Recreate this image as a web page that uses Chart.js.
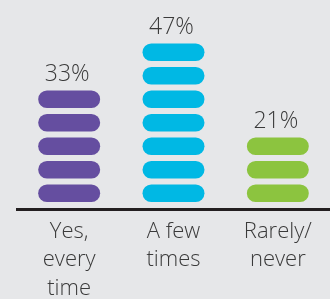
<!DOCTYPE html>
<html><head><meta charset="utf-8">
<script src="https://cdn.jsdelivr.net/npm/chart.js@4.4.1/dist/chart.umd.min.js"></script>
<style>html,body{margin:0;padding:0;background:#e6e7e9;overflow:hidden}#wrap{width:330px;height:299px;position:relative}</style>
</head><body><div id="wrap"><canvas id="c" width="330" height="299"></canvas></div>
<script>
const categories = [["Yes,","every","time"],["A few","times"],["Rarely/","never"]];
const percentages = [33, 47, 21];
const pillCounts = [5, 7, 3];
const valueLabels = ["33%", "47%", "21%"];
const colors = ["#654ea0", "#00b8e4", "#8cc43f"];

const PILL = 0.745;
const maxPills = Math.max(...pillCounts);
const datasets = [];
for (let i = 0; i < maxPills; i++) {
  datasets.push({
    data: pillCounts.map(n => (i < n ? [i, i + PILL] : null)),
    backgroundColor: colors,
    borderRadius: 20,
    borderSkipped: false,
    borderWidth: 0,
    barPercentage: 0.594,
    categoryPercentage: 1
  });
}

const valueLabelPlugin = {
  id: 'valueLabels',
  afterDatasetsDraw(chart) {
    const ctx = chart.ctx;
    ctx.save();
    ctx.font = '300 23px "Open Sans"';
    ctx.fillStyle = '#3a3a3a';
    ctx.textAlign = 'center';
    ctx.textBaseline = 'alphabetic';
    pillCounts.forEach((n, c) => {
      const el = chart.getDatasetMeta(n - 1).data[c];
      ctx.fillText(valueLabels[c], el.x - 2, el.y - 9.5);
    });
    ctx.restore();
  }
};

new Chart(document.getElementById('c'), {
  type: 'bar',
  data: { labels: categories, datasets },
  plugins: [valueLabelPlugin],
  options: {
    responsive: false,
    animation: false,
    events: [],
    layout: { padding: { left: 17, right: 0, top: 0, bottom: 0 } },
    plugins: { legend: { display: false }, tooltip: { enabled: false } },
    scales: {
      x: {
        stacked: true,
        afterFit: s => { s.height = 90; },
        grid: { display: false, drawTicks: false, tickLength: 0 },
        border: { display: true, color: '#231f20', width: 3 },
        ticks: {
          color: '#3a3a3a',
          padding: 8,
          maxRotation: 0,
          autoSkip: false,
          font: { family: '"Open Sans"', size: 22, weight: '300', lineHeight: 1.3 }
        }
      },
      y: {
        display: false,
        stacked: false,
        min: -0.3,
        max: 8.594
      }
    }
  }
});
</script></body></html>
